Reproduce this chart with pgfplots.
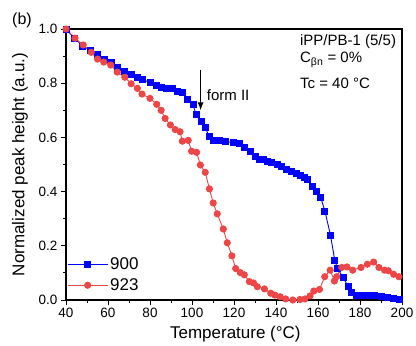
\documentclass[border=0pt]{standalone}
\usepackage{fontspec}
\setmainfont{Liberation Sans}
\usepackage{pgfplots}
\pgfplotsset{compat=1.18}
\usetikzlibrary{arrows.meta}
\definecolor{bl}{RGB}{0,0,255}
\definecolor{rd}{RGB}{238,70,70}
\begin{document}
\begin{tikzpicture}
\begin{axis}[
  name=ax,
  scale only axis,
  width=336pt, height=271pt,
  xmin=40, xmax=200, ymin=0, ymax=1,
  xtick={40,60,...,200}, ytick={0,0.2,...,1.0},
  minor x tick num=1, minor y tick num=1,
  xtick pos=bottom, ytick pos=left,
  tick align=outside,
  major tick length=5pt, minor tick length=3pt,
  every tick/.style={black, line width=0.9pt},
  axis line style={line width=1.3pt},
  /pgf/number format/assume math mode=true,
  yticklabel style={/pgf/number format/.cd, fixed, fixed zerofill, precision=1},
  ticklabel style={font=\fontsize{13.5}{15}\selectfont},
  xlabel={Temperature (°C)},
  ylabel={Normalized peak height (a.u.)},
  label style={font=\fontsize{17}{19}\selectfont},
  xlabel style={at={(axis description cs:0.504,-0.125)}, anchor=center},
  ylabel style={at={(axis description cs:-0.137,0.5)}, anchor=center},
  clip=false,
  legend style={at={(rel axis cs:0,0.018)}, anchor=south west, draw=none, fill=none,
    font=\fontsize{17}{19}\selectfont, row sep=3.5pt, inner sep=1pt},
  legend cell align=left,
  legend image code/.code={\draw[#1, mark repeat=2, mark phase=2] plot coordinates {(0pt,0pt)(20pt,0pt)(40pt,0pt)};},
]
\addplot[bl, line width=0.9pt, mark=square*, mark size=3pt, mark options={solid, fill=bl, draw=bl}] coordinates {
(40,1.0)(44,0.966)(48,0.937)(51.5,0.922)(55,0.907)(58.5,0.889)(61.5,0.875)(64.5,0.858)
(68,0.843)(71,0.834)(74,0.821)(76.5,0.813)(80,0.803)(83,0.792)(85.5,0.783)(88,0.779)
(90.5,0.782)(93,0.771)(95.5,0.765)(97.8,0.74)(100.5,0.72)(102,0.683)(104.3,0.659)
(106.3,0.636)(108.2,0.604)(110.2,0.588)(113,0.587)(116,0.585)(119.5,0.581)(122.5,0.576)
(125.2,0.563)(127.6,0.548)(130,0.53)(132,0.52)(134,0.517)(136,0.512)(138,0.507)
(140.5,0.499)(142.7,0.492)(145,0.483)(147.5,0.474)(149.5,0.466)(151.5,0.459)(153.5,0.452)
(155.2,0.443)(157.3,0.419)(159.4,0.402)(161.3,0.378)(163.3,0.328)(166,0.237)(168,0.145)
(169.3,0.117)(172,0.082)(174.4,0.05)(176,0.028)(178.4,0.016)(181,0.015)(184,0.016)
(187,0.015)(190,0.013)(193,0.01)(196,0.007)(199,0.002)
};
\addlegendentry{900}
\addplot[rd, line width=0.9pt, mark=*, mark size=3.1pt, mark options={solid, fill=rd, draw=rd}] coordinates {
(40,1.0)(44.3,0.966)(48.2,0.941)(52,0.914)(55,0.889)(58,0.878)(61.3,0.867)(64.4,0.841)
(68,0.822)(71,0.798)(74,0.781)(76.2,0.76)(80,0.744)(83.2,0.722)(85.3,0.70)(87.2,0.67)
(89.7,0.646)(92,0.629)(94.3,0.621)(95.4,0.586)(98.2,0.589)(99.8,0.549)(102.2,0.545)
(104,0.498)(106.3,0.471)(108.3,0.41)(110.1,0.358)(112,0.318)(114.9,0.262)(116.8,0.211)
(119,0.163)(120.8,0.116)(123,0.101)(124.9,0.093)(127.3,0.068)(129.3,0.063)(131.1,0.049)
(134.5,0.041)(137.5,0.025)(139.5,0.018)(142,0.012)(144.6,0.004)(148,0.0)(151.4,0.002)
(153.8,0.004)(156.2,0.015)(158,0.033)(160.7,0.039)(163.2,0.086)(165.8,0.11)(167.8,0.07)
(168.9,0.086)(171.3,0.12)(173.8,0.122)(176.5,0.11)(180.5,0.12)(183.5,0.132)(186.5,0.14)
(189,0.12)(191.7,0.11)(193.5,0.108)(196,0.095)(198.5,0.086)
};
\addlegendentry{923}
\draw[-{Latex[length=8pt,width=6pt]}, line width=1pt] (axis cs:104.1,0.85) -- (axis cs:104.1,0.70);
\node[anchor=west, inner sep=0pt, font=\fontsize{15}{17}\selectfont] at (axis cs:107,0.756) {form II};
\node[anchor=west, inner sep=0pt, font=\fontsize{15}{17}\selectfont] at (axis cs:151.4,0.952) {iPP/PB-1 (5/5)};
\node[anchor=west, inner sep=0pt, font=\fontsize{15}{17}\selectfont] at (axis cs:151.4,0.886) {C\textsubscript{βn} = 0\%};
\node[anchor=west, inner sep=0pt, font=\fontsize{15}{17}\selectfont] at (axis cs:151.4,0.801) {Tc = 40 °C};
\node[anchor=center, inner sep=0pt, font=\fontsize{16}{18}\selectfont] at (axis cs:19.05,1.033) {(b)};
\end{axis}
\pgfresetboundingbox
\path ([xshift=-66pt,yshift=-45pt]ax.south west) rectangle ([xshift=14pt,yshift=29pt]ax.north east);
\end{tikzpicture}
\end{document}
